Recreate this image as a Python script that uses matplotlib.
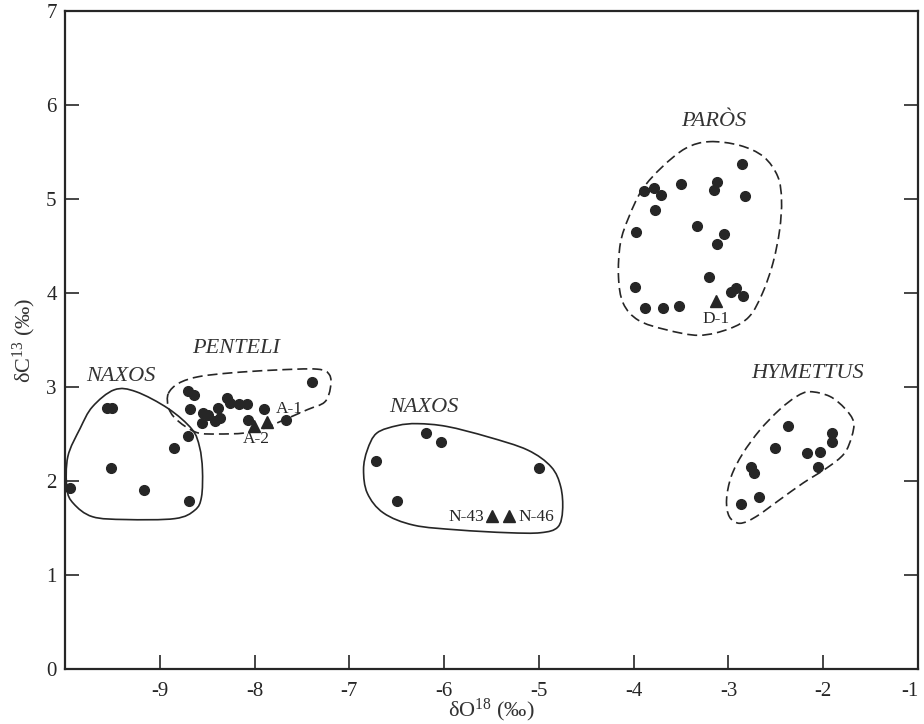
import numpy as np
import matplotlib
matplotlib.use("Agg")
import matplotlib.pyplot as plt
from matplotlib.path import Path
from matplotlib.patches import PathPatch

plt.rcParams['font.family'] = ['Liberation Serif', 'DejaVu Serif']
plt.rcParams['mathtext.fontset'] = 'custom'
plt.rcParams['mathtext.rm'] = 'Liberation Serif'
plt.rcParams['mathtext.it'] = 'Liberation Serif:italic'

INK = '#262626'

# isotope values (dO18, dC13) per quarry
naxos_a_o = [-9.56, -9.50, -8.70, -8.85, -9.51, -9.17, -8.69, -9.95]
naxos_a_c = [2.78, 2.78, 2.48, 2.35, 2.14, 1.90, 1.79, 1.93]

penteli_o = [-8.70, -8.64, -7.39, -8.68, -8.54, -8.49, -8.55, -8.39, -8.42, -8.36,
             -8.29, -8.26, -8.16, -8.08, -7.90, -8.07, -7.67]
penteli_c = [2.96, 2.91, 3.05, 2.77, 2.72, 2.70, 2.62, 2.78, 2.64, 2.67,
             2.88, 2.83, 2.82, 2.82, 2.77, 2.65, 2.65]

naxos_b_o = [-6.19, -6.03, -6.72, -5.00, -6.50]
naxos_b_c = [2.51, 2.41, 2.21, 2.14, 1.79]

paros_o = [-2.86, -3.89, -3.79, -3.71, -3.50, -3.12, -3.15, -2.83, -3.78, -3.98,
           -3.33, -3.05, -3.12, -3.20, -3.99, -2.97, -2.92, -2.85, -3.88, -3.69, -3.52]
paros_c = [5.37, 5.08, 5.12, 5.04, 5.16, 5.18, 5.10, 5.03, 4.88, 4.65,
           4.71, 4.63, 4.52, 4.17, 4.06, 4.01, 4.05, 3.97, 3.84, 3.84, 3.86]

hymettus_o = [-2.37, -1.91, -1.91, -2.51, -2.17, -2.03, -2.05, -2.76, -2.73, -2.68, -2.87]
hymettus_c = [2.58, 2.51, 2.42, 2.35, 2.30, 2.31, 2.15, 2.15, 2.09, 1.83, 1.76]

# analysed samples (triangles)
sample_names = ['A-1', 'A-2', 'N-43', 'N-46', 'D-1']
sample_o = [-7.87, -8.01, -5.50, -5.32, -3.13]
sample_c = [2.63, 2.59, 1.63, 1.63, 3.91]

# field outlines, control points in (dO18, dC13)
naxos_a_field = [(-9.48, 2.97), (-9.25, 2.95), (-8.91, 2.77), (-8.66, 2.55), (-8.58, 2.36),
                 (-8.55, 2.12), (-8.56, 1.83), (-8.63, 1.69), (-8.84, 1.60), (-9.36, 1.59),
                 (-9.71, 1.62), (-9.91, 1.76), (-9.98, 1.92), (-9.97, 2.26), (-9.84, 2.56),
                 (-9.71, 2.79)]
penteli_field = [(-8.91, 2.93), (-8.80, 3.04), (-8.59, 3.11), (-8.25, 3.15), (-7.79, 3.18),
                 (-7.34, 3.19), (-7.21, 3.13), (-7.20, 2.99), (-7.26, 2.84), (-7.44, 2.76),
                 (-7.69, 2.65), (-7.90, 2.56), (-8.11, 2.51), (-8.39, 2.50), (-8.59, 2.51),
                 (-8.73, 2.58), (-8.85, 2.68), (-8.91, 2.79)]
naxos_b_field = [(-6.81, 2.33), (-6.71, 2.51), (-6.49, 2.59), (-6.28, 2.61), (-5.97, 2.58),
                 (-5.54, 2.47), (-5.12, 2.33), (-4.87, 2.15), (-4.77, 1.94), (-4.75, 1.69),
                 (-4.80, 1.51), (-4.98, 1.45), (-5.33, 1.45), (-5.86, 1.48), (-6.32, 1.53),
                 (-6.64, 1.66), (-6.81, 1.87), (-6.85, 2.12)]
paros_field = [(-3.20, 5.61), (-2.88, 5.57), (-2.63, 5.45), (-2.48, 5.24), (-2.44, 4.99),
               (-2.46, 4.67), (-2.53, 4.32), (-2.64, 4.00), (-2.78, 3.75), (-2.99, 3.62),
               (-3.31, 3.55), (-3.66, 3.61), (-3.95, 3.71), (-4.11, 3.89), (-4.16, 4.17),
               (-4.14, 4.53), (-4.05, 4.81), (-3.91, 5.10), (-3.70, 5.34), (-3.45, 5.54)]
hymettus_field = [(-2.14, 2.95), (-1.93, 2.90), (-1.77, 2.77), (-1.68, 2.63), (-1.70, 2.47),
                  (-1.78, 2.29), (-1.96, 2.14), (-2.21, 1.98), (-2.46, 1.80), (-2.71, 1.62),
                  (-2.88, 1.55), (-2.99, 1.62), (-3.02, 1.80), (-2.97, 2.05), (-2.85, 2.29),
                  (-2.67, 2.54), (-2.46, 2.76), (-2.28, 2.90)]

x_ticks = [-9, -8, -7, -6, -5, -4, -3, -2, -1]
x_labels = ['-9', '-8', '-7', '-6', '-5', '-4', '-3', '-2', '-1']
y_ticks = [0, 1, 2, 3, 4, 5, 6, 7]


def closed_curve(points):
    """Smooth closed Catmull-Rom curve through the points, as a bezier Path."""
    p = np.asarray(points, dtype=float)
    n = len(p)
    verts = [p[0]]
    codes = [Path.MOVETO]
    for i in range(n):
        p0, p1, p2, p3 = p[i - 1], p[i], p[(i + 1) % n], p[(i + 2) % n]
        verts += [p1 + (p2 - p0) / 6.0, p2 - (p3 - p1) / 6.0, p2]
        codes += [Path.CURVE4] * 3
    return Path(verts, codes)


fig = plt.figure(figsize=(9.24, 7.24), dpi=100)
ax = fig.add_axes([65 / 924, 1 - 669 / 724, 853 / 924, 658 / 724])

solid = dict(fill=False, edgecolor=INK, linewidth=1.2)
dashed = dict(fill=False, edgecolor=INK, linewidth=1.2, linestyle=(0, (6, 3)))
ax.add_patch(PathPatch(closed_curve(naxos_a_field), **solid))
ax.add_patch(PathPatch(closed_curve(naxos_b_field), **solid))
ax.add_patch(PathPatch(closed_curve(penteli_field), **dashed))
ax.add_patch(PathPatch(closed_curve(paros_field), **dashed))
ax.add_patch(PathPatch(closed_curve(hymettus_field), **dashed))

dot = dict(linestyle='none', marker='o', markersize=7, color=INK, clip_on=False)
for xs, ys in [(naxos_a_o, naxos_a_c), (penteli_o, penteli_c), (naxos_b_o, naxos_b_c),
               (paros_o, paros_c), (hymettus_o, hymettus_c)]:
    ax.plot(xs, ys, **dot)
ax.plot(sample_o, sample_c, linestyle='none', marker='^', markersize=8.5, color=INK)

# sample labels
ax.text(-7.78, 2.77, 'A-1', fontsize=12.5, color=INK, ha='left', va='center')
ax.text(-7.98, 2.45, 'A-2', fontsize=12.5, color=INK, ha='center', va='center')
ax.text(-5.58, 1.62, 'N-43', fontsize=12.5, color=INK, ha='right', va='center')
ax.text(-5.22, 1.62, 'N-46', fontsize=12.5, color=INK, ha='left', va='center')
ax.text(-3.13, 3.72, 'D-1', fontsize=12.5, color=INK, ha='center', va='center')

# site names
site = dict(fontsize=16, style='italic', color='#333333', ha='center', va='center')
ax.text(-9.41, 3.11, 'NAXOS', **site)
ax.text(-8.19, 3.41, 'PENTELI', **site)
ax.text(-6.21, 2.78, 'NAXOS', **site)
ax.text(-3.15, 5.82, 'PARÒS', **site)
ax.text(-2.17, 3.14, 'HYMETTUS', **site)

ax.set_xlim(-10, -1)
ax.set_ylim(0, 7)
ax.set_xticks(x_ticks)
ax.set_xticklabels(x_labels)
ax.set_yticks(y_ticks)
ax.tick_params(axis='x', direction='in', length=10, width=1.2, pad=9,
               labelsize=15, colors=INK)
ax.tick_params(axis='y', direction='in', length=10, width=1.2, pad=6,
               labelsize=15, colors=INK, right=True)
ax.get_xticklabels()[-1].set_ha('right')
for s in ax.spines.values():
    s.set_linewidth(1.6)
    s.set_color(INK)

ax.set_xlabel('δO$^{18}$ (‰)', fontsize=16, color='#333333', labelpad=-3)
ax.set_ylabel('δC$^{13}$ (‰)', fontsize=16, color='#333333', labelpad=6)

fig.savefig('out.png', dpi=100, facecolor='white')
